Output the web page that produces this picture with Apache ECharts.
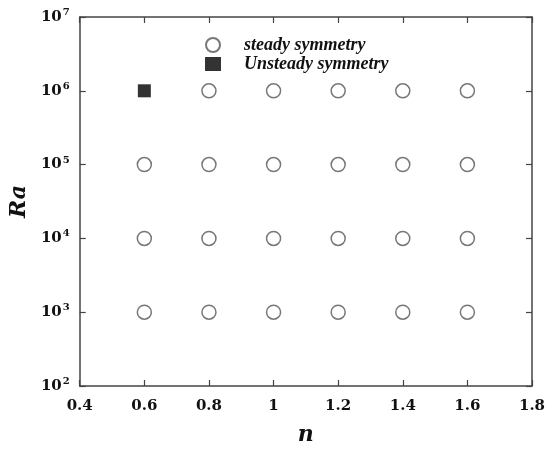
<!DOCTYPE html>
<html>
<head>
<meta charset="utf-8">
<script src="https://cdn.jsdelivr.net/npm/echarts@6/dist/echarts.min.js"></script>
<style>
  html, body { margin: 0; padding: 0; background: #fff; }
  #chart { width: 552px; height: 451px; }
</style>
</head>
<body>
<div id="chart"></div>
<script>
// power-law index n and Rayleigh number Ra
var nValues = [0.6, 0.8, 1.0, 1.2, 1.4, 1.6];
var raValues = [1e3, 1e4, 1e5, 1e6];
// cases that stayed steady / became unsteady
var steadyPoints = [];
var unsteadyPoints = [[0.6, 1e6]];
raValues.forEach(function (ra) {
    nValues.forEach(function (n) {
        var isUnsteady = unsteadyPoints.some(function (p) { return p[0] === n && p[1] === ra; });
        if (!isUnsteady) steadyPoints.push([n, ra]);
    });
});

var serif = '"DejaVu Serif", "Liberation Serif", serif';
var times = '"Liberation Serif", "DejaVu Serif", serif';
var lineColor = '#444';

var myChart = echarts.init(document.getElementById('chart'));
myChart.setOption({
    backgroundColor: '#fff',
    animation: false,
    grid: {
        left: 78,
        right: 20,
        top: 17,
        bottom: 57
    },
    legend: {
        orient: 'vertical',
        left: 200,
        top: 31,
        itemGap: 1,
        itemWidth: 16,
        itemHeight: 14,
        textStyle: {
            fontFamily: times,
            fontStyle: 'italic',
            fontWeight: 'bold',
            fontSize: 18,
            color: '#111',
            padding: [0, 0, 0, 18]
        },
        data: ['steady symmetry', 'Unsteady symmetry']
    },
    xAxis: [{
        type: 'value',
        min: 0.4,
        max: 1.8,
        interval: 0.2,
        name: 'n',
        nameLocation: 'middle',
        nameGap: 38,
        nameTextStyle: {
            fontFamily: serif,
            fontStyle: 'italic',
            fontWeight: 'bold',
            fontSize: 22,
            color: '#111'
        },
        axisLine: { lineStyle: { color: lineColor, width: 1.5 } },
        axisTick: { inside: true, length: 6, lineStyle: { color: lineColor, width: 1.2 } },
        splitLine: { show: false },
        axisLabel: {
            margin: 13,
            fontFamily: serif,
            fontWeight: 'bold',
            fontSize: 15,
            color: '#111',
            formatter: function (v) {
                return Math.abs(v - 1) < 1e-9 ? '1' : (+v.toFixed(1)).toString();
            }
        }
    }, {
        type: 'value',
        position: 'top',
        min: 0.4,
        max: 1.8,
        interval: 0.2,
        axisLine: { lineStyle: { color: lineColor, width: 1.5 } },
        axisTick: { inside: true, length: 6, lineStyle: { color: lineColor, width: 1.2 } },
        splitLine: { show: false },
        axisLabel: { show: false }
    }],
    yAxis: [{
        type: 'log',
        logBase: 10,
        min: 1e2,
        max: 1e7,
        name: 'Ra',
        nameLocation: 'middle',
        nameGap: 32,
        nameTextStyle: {
            fontFamily: serif,
            fontStyle: 'italic',
            fontWeight: 'bold',
            fontSize: 22,
            color: '#111'
        },
        axisLine: { show: true, lineStyle: { color: lineColor, width: 1.5 } },
        axisTick: { inside: true, length: 6, lineStyle: { color: lineColor, width: 1.2 } },
        splitLine: { show: false },
        axisLabel: {
            margin: 10,
            formatter: function (v) {
                return '{b|10}{s|' + Math.round(Math.log10(v)) + '}';
            },
            rich: {
                b: { fontFamily: serif, fontWeight: 'bold', fontSize: 15, color: '#111' },
                s: { fontFamily: serif, fontWeight: 'bold', fontSize: 10, color: '#111', padding: [0, 0, 9, 1] }
            }
        }
    }, {
        type: 'log',
        logBase: 10,
        min: 1e2,
        max: 1e7,
        position: 'right',
        axisLine: { show: true, lineStyle: { color: lineColor, width: 1.5 } },
        axisTick: { inside: true, length: 6, lineStyle: { color: lineColor, width: 1.2 } },
        splitLine: { show: false },
        axisLabel: { show: false }
    }],
    series: [{
        name: 'steady symmetry',
        type: 'scatter',
        symbol: 'circle',
        symbolSize: 14,
        data: steadyPoints,
        itemStyle: {
            color: '#fff',
            borderColor: '#555',
            borderWidth: 1.5
        }
    }, {
        name: 'Unsteady symmetry',
        type: 'scatter',
        symbol: 'rect',
        symbolSize: 13,
        data: unsteadyPoints,
        itemStyle: {
            color: '#000'
        }
    }]
});
</script>
</body>
</html>
